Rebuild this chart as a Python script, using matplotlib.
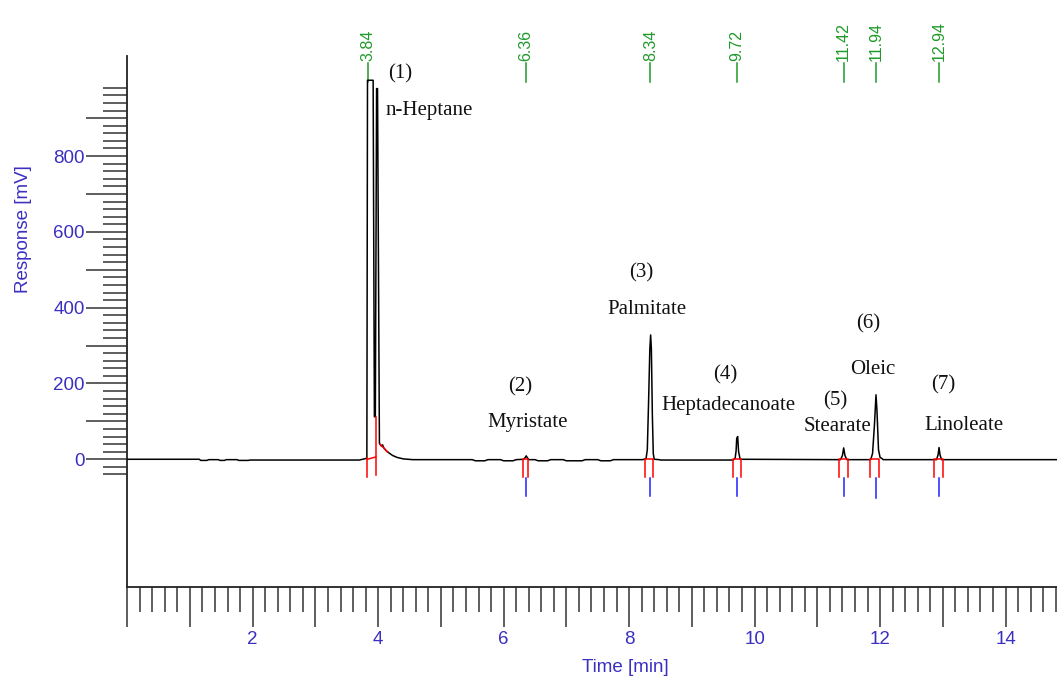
import numpy as np
import matplotlib.pyplot as plt
from matplotlib.ticker import FixedLocator, FuncFormatter

############################
# DATA
############################
time_min = [0.00, 1.15, 1.17, 1.27, 1.30, 1.45, 1.48, 1.55, 1.58, 1.75, 1.78, 1.93, 1.96, 2.35,
            3.70, 3.78, 3.82, 3.83, 3.92, 3.94, 3.955, 3.975, 3.99, 4.02, 4.05, 4.07, 4.09, 4.12,
            4.17, 4.23, 4.30, 4.40, 4.55, 5.50, 5.55, 5.70, 5.75, 5.95, 6.00, 6.15, 6.20, 6.32,
            6.345, 6.36, 6.375, 6.40, 6.50, 6.55, 6.70, 6.75, 6.95, 7.00, 7.25, 7.30, 7.50, 7.55,
            7.70, 7.75, 8.22, 8.27, 8.29, 8.31, 8.33, 8.343, 8.355, 8.37, 8.385, 8.40, 8.48, 8.50,
            9.66, 9.69, 9.705, 9.715, 9.73, 9.745, 9.77, 11.37, 11.40, 11.42, 11.44, 11.47, 11.85,
            11.88, 11.91, 11.935, 11.95, 11.975, 12.00, 12.03, 12.05, 12.90, 12.925, 12.94, 12.955,
            12.98, 14.82]
response_mV = [0, 0, -3, -3, -1, -1, -3, -3, -1, -1, -3, -3, -2, -2,
               -2, 1, 3, 1000, 1000, 112, 112, 978, 978, 42, 35, 38, 30, 24,
               17, 10, 5, 1, -1, -1, -4, -4, -1, -1, -4, -4, -1, 0,
               5, 9, 5, -1, -1, -4, -4, -1, -1, -4, -4, -1, -1, -4,
               -4, -1, -1, 2, 25, 150, 290, 328, 290, 120, 15, 0, -1, -2,
               -2, 3, 22, 55, 60, 20, 0, -1, 10, 30, 10, -1, -1,
               15, 90, 170, 130, 25, 5, 2, -1, -1, 12, 31, 12,
               -1, -1]

ret_times = [3.84, 6.36, 8.34, 9.72, 11.42, 11.94, 12.94]
ret_labels = ["3.84", "6.36", "8.34", "9.72", "11.42", "11.94", "12.94"]

# integration limits (red markers)
peak_start = [6.31, 8.25, 9.66, 11.35, 11.84, 12.86]
peak_end = [6.39, 8.385, 9.78, 11.49, 11.99, 13.00]

# main peak markers
main_start, main_end = 3.826, 3.96
main_end_top = 112
tail_t = [4.03, 4.06, 4.09, 4.15]
tail_mV = [40, 34, 30, 19]

# peak annotations
peak_nums = ["(1)", "(2)", "(3)", "(4)", "(5)", "(6)", "(7)"]
peak_names = ["n-Heptane", "Myristate", "Palmitate", "Heptadecanoate", "Stearate", "Oleic", "Linoleate"]
num_xy = [(4.35, 1016), (6.26, 191), (8.19, 491), (9.53, 222), (11.28, 154), (11.81, 357), (13.0, 196)]
name_xy = [(4.82, 921), (6.38, 96), (8.28, 394), (9.58, 143), (11.32, 86), (11.89, 238), (13.33, 88)]

############################
# STYLE
############################
AXIS_BLUE = "#3b2fc0"
GREEN = "#1f9a2a"
SANS = "Liberation Sans"
SERIF = "Liberation Serif"

W, H = 1057, 677
fig = plt.figure(figsize=(W / 100, H / 100), dpi=100)
ax = fig.add_axes([127.2 / W, 90 / H, (W - 127.2) / W, 531 / H])

ax.plot(time_min, response_mV, color="black", lw=1.1, zorder=3)

# red integration markers
for s, e in zip(peak_start, peak_end):
    ax.plot([s, s, e, e], [-46, 0, 0, -46], color="red", lw=1.1, zorder=4)
ax.plot([main_start, main_start], [3, -46], color="red", lw=1.1, zorder=4)
ax.plot([main_end, main_end], [main_end_top, -41], color="red", lw=1.1, zorder=4)
ax.plot([main_start, main_end], [0, 6], color="red", lw=1.1, zorder=4)
ax.plot(tail_t, tail_mV, color="red", lw=1.1, zorder=4)

# blue retention markers (not under solvent peak)
for t in ret_times[1:]:
    lo = -102 if t == 11.94 else -97
    ax.plot([t, t], [-50, lo], color="#2020ff", lw=1.1)

# green retention time labels: short tick line + rotated value
for t, lab in zip(ret_times, ret_labels):
    ax.plot([t, t], [995, 1046], color=GREEN, lw=1.1, clip_on=False)
    ax.text(t, 1050, lab, rotation=90, ha="center", va="bottom",
            color=GREEN, fontsize=11.5, family=SANS, clip_on=False)

for (x, y), s in zip(num_xy, peak_nums):
    ax.text(x, y, s, ha="center", va="center", fontsize=15, family=SERIF, color="#111111")
for (x, y), s in zip(name_xy, peak_names):
    ax.text(x, y, s, ha="center", va="center", fontsize=15, family=SERIF, color="#111111")

ax.set_xlim(0, 14.82)
ax.set_ylim(-337, 1064)

for sp in ["top", "right"]:
    ax.spines[sp].set_visible(False)
for sp in ["left", "bottom"]:
    ax.spines[sp].set_color("#222222")
    ax.spines[sp].set_linewidth(1.3)

# y ticks
ax.yaxis.set_major_locator(FixedLocator(np.arange(0, 901, 100)))
ax.yaxis.set_minor_locator(FixedLocator([v for v in range(-40, 981, 20) if v % 100 != 0]))
ax.yaxis.set_major_formatter(FuncFormatter(lambda v, p: f"{int(v)}" if int(v) % 200 == 0 else ""))
ax.tick_params(axis="y", which="major", direction="out", length=29.5, width=1.1,
               color="#333333", pad=1, labelsize=13.5, labelcolor=AXIS_BLUE)
ax.tick_params(axis="y", which="minor", direction="out", length=17.3, width=1.1, color="#333333")

# x ticks
ax.xaxis.set_major_locator(FixedLocator(np.arange(0, 15, 1)))
ax.xaxis.set_minor_locator(FixedLocator([round(v, 1) for v in np.arange(0, 14.81, 0.2)
                                         if abs(v - round(v)) > 1e-6]))
ax.xaxis.set_major_formatter(FuncFormatter(lambda v, p: f"{int(v)}" if v > 0 and int(v) % 2 == 0 else ""))
ax.tick_params(axis="x", which="major", direction="out", length=29, width=1.1,
               color="#333333", pad=3, labelsize=13.5, labelcolor=AXIS_BLUE)
ax.tick_params(axis="x", which="minor", direction="out", length=18, width=1.1, color="#333333")

for lab in ax.get_xticklabels() + ax.get_yticklabels():
    lab.set_family(SANS)

fig.text(24 / W, 1 - 229 / H, "Response [mV]", rotation=90, ha="center", va="center",
         fontsize=13.5, family=SANS, color=AXIS_BLUE)
fig.text(625 / W, 1 - 667 / H, "Time [min]", ha="center", va="center",
         fontsize=13.5, family=SANS, color=AXIS_BLUE)

fig.savefig("out.png", dpi=100)
